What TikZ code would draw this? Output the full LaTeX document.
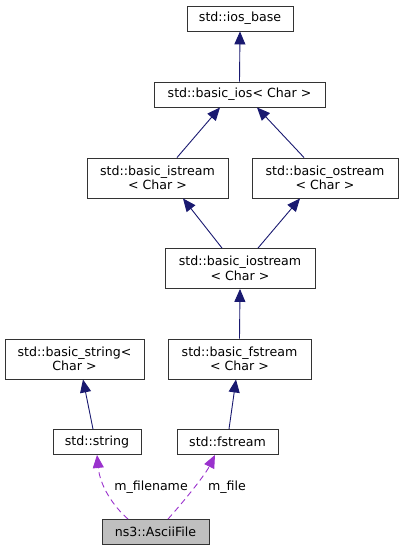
\documentclass[tikz,border=0pt]{standalone}
\usepackage{fontspec}
\setmainfont{DejaVu Sans}
\usepackage{tikz}
\usetikzlibrary{arrows.meta}

\definecolor{inh}{HTML}{191970}
\definecolor{use}{HTML}{9A32CD}

\begin{document}
\begin{tikzpicture}[x=1pt, y=-1pt,
  cls/.style={draw=black!80, line width=0.9pt, fill=white, align=center, inner sep=0pt, minimum height=25pt, font=\fontsize{12.6}{14.5}\selectfont},
  two/.style={minimum height=40pt},
  isa/.style={draw=inh, line width=0.9pt, -{Triangle[length=13pt,width=11pt]}},
  has/.style={draw=use, line width=0.9pt, dash pattern=on 6pt off 4pt, -{Triangle[length=13pt,width=11pt]}},
  lbl/.style={font=\fontsize{12.6}{14.5}\selectfont, inner sep=0pt}]
  \useasboundingbox (0,0) rectangle (403,551);
  \node[cls, minimum width=106pt] (ios) at (240,18.5) {std::ios\_base};
  \node[cls, minimum width=171pt] (basicios) at (239.5,94.5) {std::basic\_ios< Char >};
  \node[cls, two, minimum width=141pt] (istream) at (157.5,178) {std::basic\_istream\\< Char >};
  \node[cls, two, minimum width=146pt] (ostream) at (325,178) {std::basic\_ostream\\< Char >};
  \node[cls, two, minimum width=150pt] (iostream) at (240,268.5) {std::basic\_iostream\\< Char >};
  \node[cls, two, minimum width=139pt] (bstring) at (74.5,359) {std::basic\_string<\\Char >};
  \node[cls, two, minimum width=143pt] (bfstream) at (239.5,359) {std::basic\_fstream\\< Char >};
  \node[cls, minimum width=88pt] (string) at (97,442) {std::string};
  \node[cls, minimum width=101pt] (fstream) at (227.5,442) {std::fstream};
  \node[cls, fill=black!25, minimum width=107pt] (ascii) at (155.5,532) {ns3::AsciiFile};
  % inheritance
  \draw[isa] (basicios.north) -- (ios.south);
  \draw[isa] ([xshift=19.5pt]istream.north) -- ([xshift=-19.5pt]basicios.south);
  \draw[isa] ([xshift=-21pt]ostream.north) -- ([xshift=17.5pt]basicios.south);
  \draw[isa] ([xshift=-18pt]iostream.north) -- ([xshift=25.5pt]istream.south);
  \draw[isa] ([xshift=18pt]iostream.north) -- ([xshift=-25pt]ostream.south);
  \draw[isa] (bfstream.north) -- (iostream.south);
  \draw[isa] ([xshift=-4pt]string.north) -- ([xshift=8.5pt]bstring.south);
  \draw[isa] ([xshift=1.5pt]fstream.north) -- ([xshift=-3.5pt]bfstream.south);
  % members
  \draw[has] ([xshift=-27.5pt]ascii.north) .. controls (112,505) and (100,485) .. (string.south);
  \draw[has] ([xshift=12.5pt]ascii.north) .. controls (185,500) and (205,475) .. ([xshift=-12.5pt]fstream.south);
  \node[lbl] (lname) at (151,487) {m\_filename};
  \node[lbl] (lfile) at (227,487) {m\_file};
\end{tikzpicture}
\end{document}
